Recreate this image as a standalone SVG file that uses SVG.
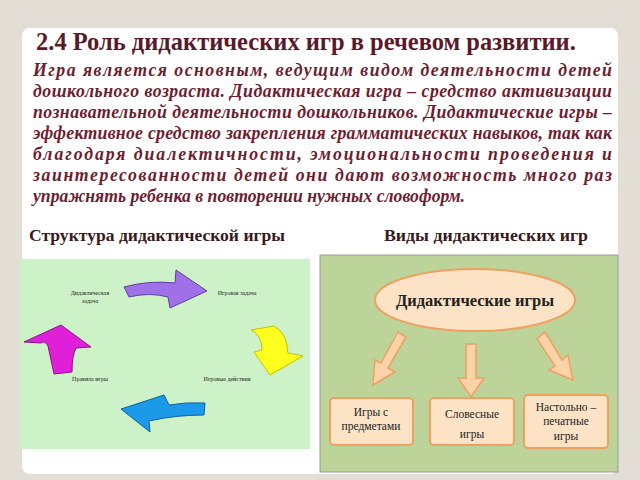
<svg xmlns="http://www.w3.org/2000/svg" width="640" height="480" viewBox="0 0 640 480">
<style>
.b{font-family:"Liberation Serif",serif;font-style:italic;font-weight:bold;font-size:17.8px;fill:#6e1e2e}
.h{font-family:"Liberation Serif",serif;font-weight:bold;fill:#3a1a1a}
.s{font-family:"Liberation Serif",serif;font-size:6px;fill:#222;text-anchor:middle}
.bx{fill:#fde3c6;stroke:#f0a060;stroke-width:2}
.bt{font-family:"Liberation Serif",serif;font-size:11.5px;fill:#222;text-anchor:middle}
.ar{fill:#fbd3a6;stroke:#f0a060;stroke-width:1.5}
</style>
<rect width="640" height="480" fill="#e2ded5"/>
<rect x="22" y="28" width="596" height="446" rx="8" fill="#fff"/>
<text class="h" x="36" y="50" font-size="24.5" fill="#5a1a28" style="fill:#5a1a28">2.4 Роль дидактических игр в речевом развитии.</text>
<g class="b">
<text x="33" y="76" textLength="579" lengthAdjust="spacing">Игра  является основным, ведущим видом деятельности детей</text>
<text x="33" y="97" textLength="579" lengthAdjust="spacing">дошкольного возраста. Дидактическая игра – средство активизации</text>
<text x="33" y="118" textLength="579" lengthAdjust="spacing">познавательной деятельности дошкольников. Дидактические игры –</text>
<text x="33" y="139" textLength="579" lengthAdjust="spacing">эффективное средство закрепления грамматических навыков, так как</text>
<text x="33" y="160" textLength="579" lengthAdjust="spacing">благодаря диалектичности, эмоциональности проведения и</text>
<text x="33" y="181" textLength="579" lengthAdjust="spacing">заинтересованности детей они дают возможность много раз</text>
<text x="33" y="202" textLength="432" lengthAdjust="spacingAndGlyphs">упражнять ребенка в повторении нужных словоформ.</text>
</g>
<text class="h" x="29" y="241" font-size="17.5" textLength="256" lengthAdjust="spacingAndGlyphs">Структура дидактической игры</text>
<text class="h" x="384" y="241" font-size="17.5" textLength="204" lengthAdjust="spacingAndGlyphs">Виды дидактических игр</text>
<g id="left">
<rect x="20" y="259" width="290" height="190" fill="#cef2c8"/>
<text class="s" x="90" y="295">Дидактическая</text><text class="s" x="90" y="303">задача</text>
<text class="s" x="237" y="295">Игровая задача</text>
<text class="s" x="227" y="381">Игровые действия</text>
<text class="s" x="90" y="381">Правила игры</text>
<path d="M124,287 Q150,280 175,283 L176,270 L207,291 L170,308 L168,297 Q150,292 129,297 Z" fill="#a070e8" stroke="#6040a0"/>
<path d="M251,330 Q262,335 262,350 L254,352 L270,375 L303,356 L288,353 Q287,333 274,326 Z" fill="#ffff20" stroke="#c8c000"/>
<path d="M205,403 Q185,402 169,405 L164,395 L121,409 L150,432 L149,421 Q175,415 204,415 Z" fill="#1a9ae8" stroke="#1060a0"/>
<path d="M54,374 L48,346 Q45,340 41,343 L24,342 L61,325 L91,347 L76,348 Q72,355 72,372 Z" fill="#e020d8" stroke="#901090"/>
</g>
<g id="right">
<rect x="320" y="255" width="298" height="217" fill="#bcd49a" stroke="#999"/>
</g>
<g id="connectors">
<path class="ar" d="M398,332 L406,337 L388,368 L395,372 L373,385 L375,360 L381,363 Z"/>
<path class="ar" d="M466,344 L476,344 L476,378 L484,378 L471,397 L458,378 L466,378 Z"/>
<path class="ar" d="M545,332 L537,339 L555,366 L549,370 L573,380 L568,355 L562,360 Z"/>
</g>
<g id="root"><ellipse class="bx" cx="475" cy="300" rx="100" ry="31"/>
<text class="bt" x="475" y="306" font-size="16.5" font-weight="bold" style="font-size:16.5px;font-weight:bold">Дидактические игры</text></g>
<g id="n1"><rect class="bx" x="330" y="398" width="83" height="47" rx="4"/>
<text class="bt" x="371" y="416">Игры с</text><text class="bt" x="371" y="430">предметами</text></g>
<g id="n2"><rect class="bx" x="430" y="398" width="84" height="47" rx="4"/>
<text class="bt" x="472" y="418">Словесные</text><text class="bt" x="472" y="438">игры</text></g>
<g id="n3"><rect class="bx" x="524" y="395" width="84" height="53" rx="4"/>
<text class="bt" x="566" y="411">Настольно –</text><text class="bt" x="566" y="425">печатные</text><text class="bt" x="566" y="440">игры</text></g>
</svg>
